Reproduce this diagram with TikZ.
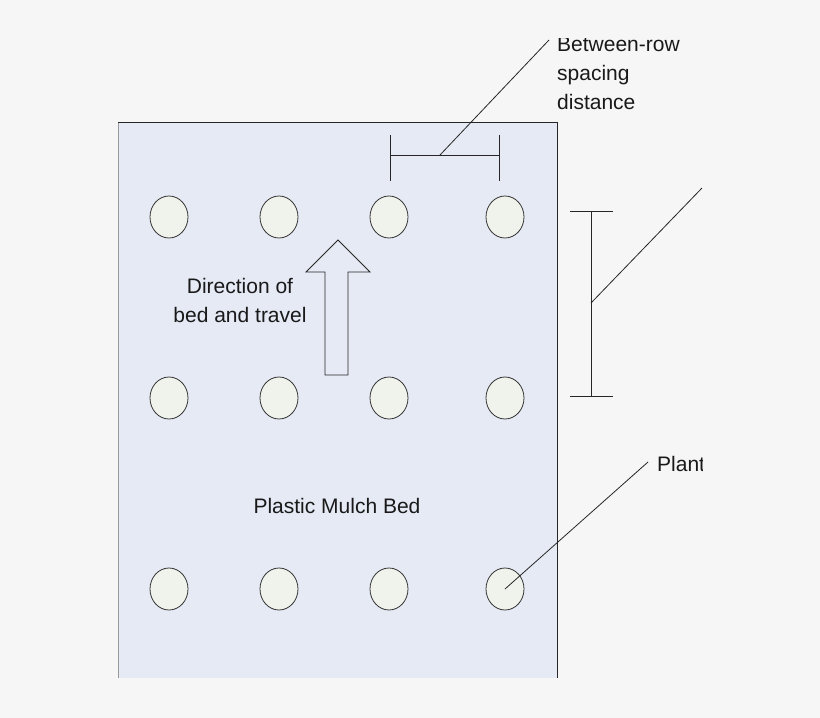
\documentclass[tikz,border=0pt]{standalone}
\usepackage{fontspec}
\setmainfont{Liberation Sans}
\usetikzlibrary{shapes.geometric}
\definecolor{bg}{RGB}{246,246,246}
\definecolor{bedc}{RGB}{230,234,245}
\definecolor{plc}{RGB}{240,242,236}
\begin{document}
\begin{tikzpicture}[x=1pt,y=-1pt,
  plant/.style={draw=black!80,fill=plc,ellipse,minimum width=38pt,minimum height=42pt,inner sep=0pt,line width=0.8pt},
  lbl/.style={font=\fontsize{21}{29}\selectfont,text=black!90,inner sep=0pt},
  ln/.style={line width=0.8pt,draw=black!85}]
\useasboundingbox (0,0) rectangle (820,718);
\fill[bg] (0,0) rectangle (820,718);
\begin{scope}
\clip (0,38) rectangle (702,718);
\fill[bedc] (118,122) rectangle (557,678);
\draw[black!40,line width=0.8pt] (118,678) -- (118,122);
\draw[ln] (118,122) -- (557,122) -- (557,678);
\foreach \x [count=\i] in {169,279,389,505}
  \foreach \y [count=\j] in {217,398,589}
    \node[plant] (p\i\j) at (\x,\y) {};
% arrow
\draw[ln,fill=bedc] (325,375) -- (325,272) -- (306,272) -- (338,240) -- (370,272) -- (348,272) -- (348,375) -- cycle;
\node[lbl,align=center] (dir) at (240,300) {Direction of\\bed and travel};
\node[lbl] (bed) at (337,506) {Plastic Mulch Bed};
% between-row
\coordinate (h1) at (390,155); \coordinate (h2) at (499,155); \coordinate (hm) at (440,155);
\draw[ln] (h1) -- (h2); \draw[ln] (390,135) -- (390,181); \draw[ln] (499,135) -- (499,181);
\node[lbl,align=left,anchor=north west] (brs) at (557,37) {Between-row\\spacing\\distance};
\coordinate (be) at (549,40);
\draw[ln] (hm) -- (be);
% in-row
\coordinate (v1) at (591,211); \coordinate (v2) at (591,396); \coordinate (vm) at (591,303);
\draw[ln] (v1) -- (v2); \draw[ln] (570,211) -- (613,211); \draw[ln] (570,396) -- (613,396);
\coordinate (ve) at (702,188);
\draw[ln] (vm) -- (ve);
% plant
\node[lbl,anchor=west] (pl) at (657,464) {Plant};
\draw[ln] (p43.center) -- (648,462);
\end{scope}
\end{tikzpicture}
\end{document}
